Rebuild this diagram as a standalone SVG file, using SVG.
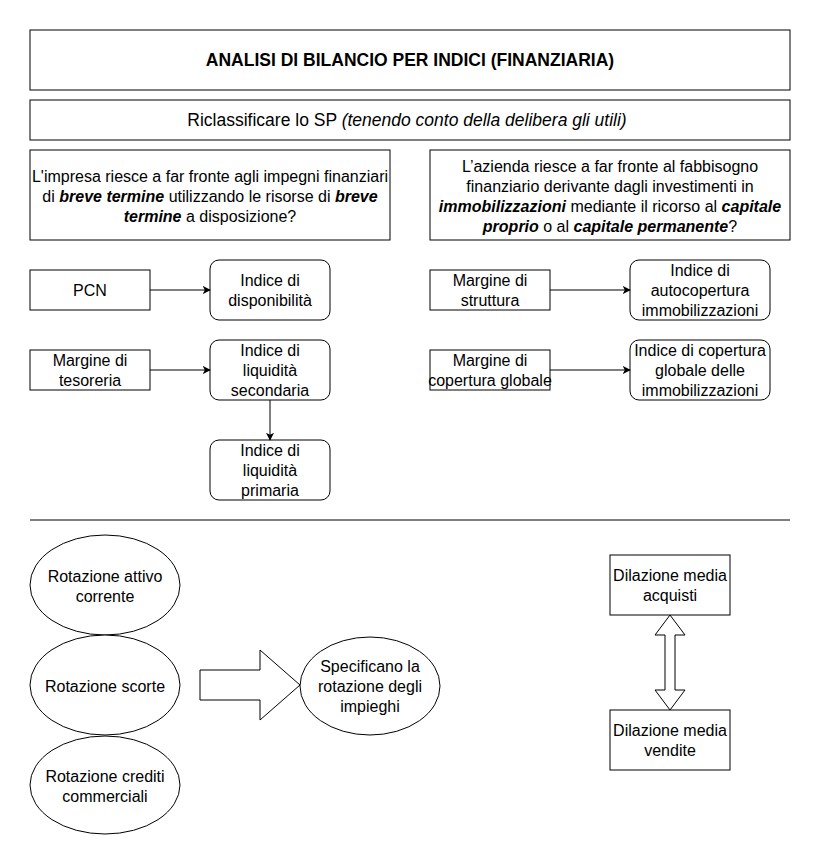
<svg xmlns="http://www.w3.org/2000/svg" width="822" height="866" viewBox="0 0 822 866">
<defs>
<style>
.b{fill:#fff;stroke:#000;stroke-width:1}
.t{font-family:"Liberation Sans",Arial,sans-serif;font-size:16px;fill:#000;text-anchor:middle;dominant-baseline:central}
.bi{font-weight:bold;font-style:italic}
.c{stroke:#000;stroke-width:1;fill:none}
</style>
<marker id="ah" viewBox="0 0 10 10" refX="9" refY="5" markerWidth="8" markerHeight="8" markerUnits="userSpaceOnUse" orient="auto">
<path d="M0,0 L10,5 L0,10 L2.5,5 Z" fill="#000"/>
</marker>
</defs>
<rect width="822" height="866" fill="#fff"/>

<g id="title">
<rect class="b" x="30" y="30" width="760" height="60"/>
<text class="t" x="410" y="60" style="font-size:17.5px;font-weight:bold">ANALISI DI BILANCIO PER INDICI (FINANZIARIA)</text>
</g>
<g id="riclassificare">
<rect class="b" x="30" y="100" width="760" height="40"/>
<text class="t" x="407" y="120" style="font-size:17.5px">Riclassificare lo SP <tspan font-style="italic">(tenendo conto della delibera gli utili)</tspan></text>
</g>
<g id="q-breve">
<rect class="b" x="30" y="150" width="360" height="90"/>
<text class="t" x="210" y="176">L'impresa riesce a far fronte agli impegni finanziari</text>
<text class="t" x="210" y="196">di <tspan class="bi">breve termine</tspan> utilizzando le risorse di <tspan class="bi">breve</tspan></text>
<text class="t" x="210" y="216"><tspan class="bi">termine</tspan> a disposizione?</text>
</g>
<g id="q-immob">
<rect class="b" x="430" y="150" width="360" height="90"/>
<text class="t" x="610" y="166">L’azienda riesce a far fronte al fabbisogno</text>
<text class="t" x="610" y="186">finanziario derivante dagli investimenti in</text>
<text class="t" x="610" y="206"><tspan class="bi">immobilizzazioni</tspan> mediante il ricorso al <tspan class="bi">capitale</tspan></text>
<text class="t" x="610" y="226"><tspan class="bi">proprio</tspan> o al <tspan class="bi">capitale permanente</tspan>?</text>
</g>

<g id="pcn">
<rect class="b" x="30" y="270" width="120" height="40"/>
<text class="t" x="90" y="290">PCN</text>
</g>
<g id="ind-disp">
<rect class="b" x="210" y="260" width="120" height="60" rx="9"/>
<text class="t" x="270" y="280">Indice di</text>
<text class="t" x="270" y="300">disponibilità</text>
</g>
<g id="marg-tes">
<rect class="b" x="30" y="350" width="120" height="40"/>
<text class="t" x="90" y="360">Margine di</text>
<text class="t" x="90" y="380">tesoreria</text>
</g>
<g id="ind-liq-sec">
<rect class="b" x="210" y="340" width="120" height="60" rx="9"/>
<text class="t" x="270" y="350">Indice di</text>
<text class="t" x="270" y="370">liquidità</text>
<text class="t" x="270" y="390">secondaria</text>
</g>
<g id="ind-liq-pri">
<rect class="b" x="210" y="440" width="120" height="60" rx="9"/>
<text class="t" x="270" y="450">Indice di</text>
<text class="t" x="270" y="470">liquidità</text>
<text class="t" x="270" y="490">primaria</text>
</g>
<g id="marg-strutt">
<rect class="b" x="430" y="270" width="120" height="40"/>
<text class="t" x="490" y="280">Margine di</text>
<text class="t" x="490" y="300">struttura</text>
</g>
<g id="ind-autocop">
<rect class="b" x="630" y="260" width="140" height="60" rx="9"/>
<text class="t" x="700" y="270">Indice di</text>
<text class="t" x="700" y="290">autocopertura</text>
<text class="t" x="700" y="310">immobilizzazioni</text>
</g>
<g id="marg-cop-glob">
<rect class="b" x="430" y="350" width="120" height="40"/>
<text class="t" x="490" y="360">Margine di</text>
<text class="t" x="490" y="380">copertura globale</text>
</g>
<g id="ind-cop-glob">
<rect class="b" x="630" y="340" width="140" height="60" rx="9"/>
<text class="t" x="700" y="350">Indice di copertura</text>
<text class="t" x="700" y="370">globale delle</text>
<text class="t" x="700" y="390">immobilizzazioni</text>
</g>

<g id="separator">
<line class="c" x1="30" y1="520" x2="790" y2="520"/>
</g>

<g id="rot-attivo">
<ellipse class="b" cx="105" cy="585" rx="75" ry="50"/>
<text class="t" x="105" y="576">Rotazione attivo</text>
<text class="t" x="105" y="596">corrente</text>
</g>
<g id="rot-scorte">
<ellipse class="b" cx="105" cy="685" rx="75" ry="50"/>
<text class="t" x="105" y="686">Rotazione scorte</text>
</g>
<g id="rot-crediti">
<ellipse class="b" cx="105" cy="785" rx="75" ry="49"/>
<text class="t" x="105" y="776">Rotazione crediti</text>
<text class="t" x="105" y="796">commerciali</text>
</g>
<g id="block-arrow">
<polygon class="b" points="200,670 260,670 260,650 300,685 260,720 260,700 200,700"/>
</g>
<g id="specificano">
<ellipse class="b" cx="370" cy="686" rx="70" ry="49"/>
<text class="t" x="370" y="666">Specificano la</text>
<text class="t" x="370" y="686">rotazione degli</text>
<text class="t" x="370" y="706">impieghi</text>
</g>
<g id="dil-acquisti">
<rect class="b" x="610" y="555" width="120" height="60"/>
<text class="t" x="670" y="575">Dilazione media</text>
<text class="t" x="670" y="595">acquisti</text>
</g>
<g id="dil-vendite">
<rect class="b" x="610" y="710" width="120" height="60"/>
<text class="t" x="670" y="730">Dilazione media</text>
<text class="t" x="670" y="750">vendite</text>
</g>
<g id="double-arrow">
<polygon class="b" points="670,615 685,635 675,635 675,690 685,690 670,710 655,690 665,690 665,635 655,635"/>
</g>

<g id="connectors">
<line class="c" x1="150" y1="290" x2="210" y2="290" marker-end="url(#ah)"/>
<line class="c" x1="150" y1="370" x2="210" y2="370" marker-end="url(#ah)"/>
<line class="c" x1="270" y1="400" x2="270" y2="440" marker-end="url(#ah)"/>
<line class="c" x1="550" y1="290" x2="630" y2="290" marker-end="url(#ah)"/>
<line class="c" x1="550" y1="370" x2="630" y2="370" marker-end="url(#ah)"/>
</g>
</svg>
